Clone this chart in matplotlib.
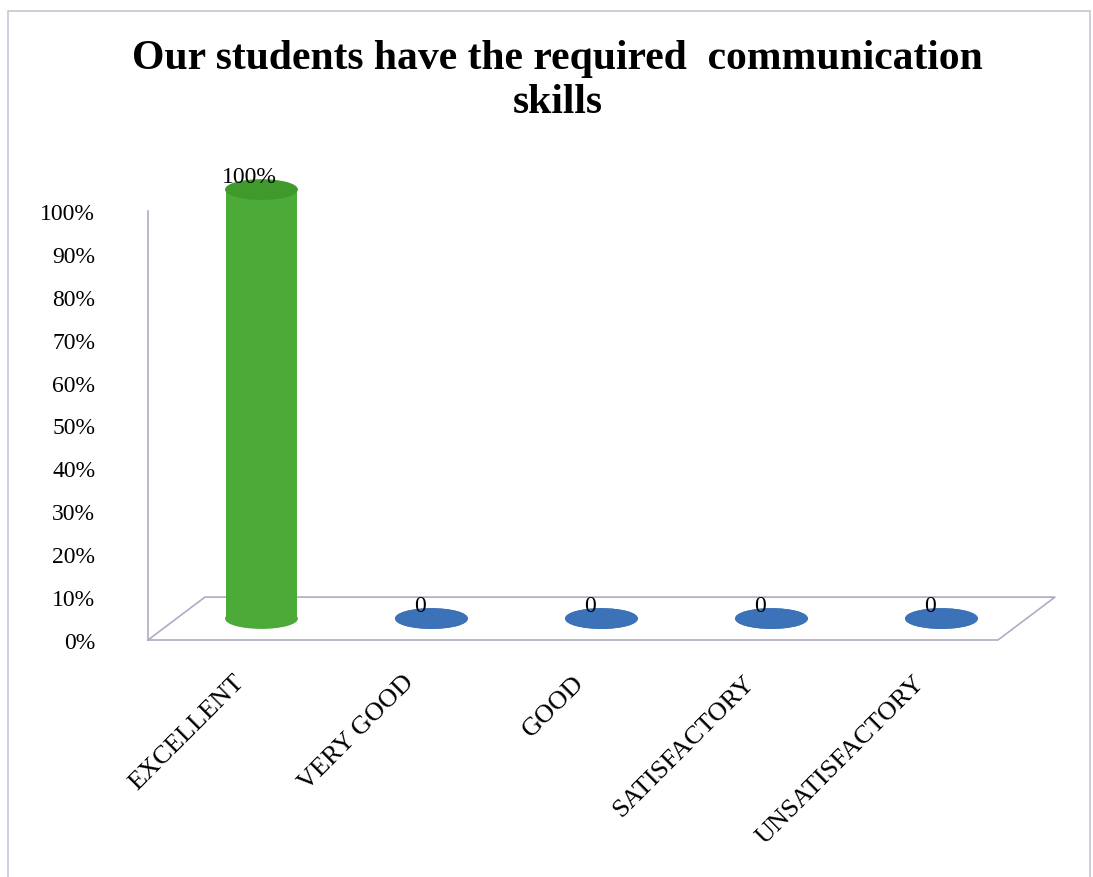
import matplotlib.pyplot as plt
from matplotlib.patches import Ellipse, Rectangle

categories = ["EXCELLENT", "VERY GOOD", "GOOD", "SATISFACTORY", "UNSATISFACTORY"]
values = [100, 0, 0, 0, 0]
value_labels = ["100%", "0", "0", "0", "0"]
yticks = [0, 10, 20, 30, 40, 50, 60, 70, 80, 90, 100]
ytick_labels = [f"{t}%" for t in yticks]
colors = ["#4caa38", "#3c72b8", "#3c72b8", "#3c72b8", "#3c72b8"]
top_colors = ["#3f9a2b", "#3c72b8", "#3c72b8", "#3c72b8", "#3c72b8"]

title = "Our students have the required  communication\nskills"

plt.rcParams['font.family'] = ['Liberation Serif', 'DejaVu Serif']

fig = plt.figure(figsize=(10.93, 8.78), dpi=100)
W, H = 1093, 878

# axes box in pixels: front plane x -0.5 -> 148px, 170 px per category
dx, dy = 0.335, 10.0          # depth offset of the floor (data units)
x_lo, x_hi = -0.5, 4.5 + dx
y_lo, y_hi = 0, 112
left_px, bottom_px = 148, 641
right_px = left_px + (x_hi - x_lo) * 170
top_px = bottom_px - (y_hi - y_lo) * 4.29
ax = fig.add_axes([left_px / W, 1 - bottom_px / H,
                   (right_px - left_px) / W, (bottom_px - top_px) / H])
ax.set_xlim(x_lo, x_hi)
ax.set_ylim(y_lo, y_hi)

line_col = "#b3aac4"
for s in ["top", "right", "bottom"]:
    ax.spines[s].set_visible(False)
ax.spines["left"].set_bounds(0, 100)
ax.spines["left"].set_color(line_col)
ax.spines["left"].set_linewidth(1.2)

# floor
n = len(categories)
fx = [x_lo, n - 0.5, n - 0.5 + dx, x_lo + dx, x_lo]
fy = [0, 0, dy, dy, 0]
ax.plot(fx, fy, color=line_col, lw=1.2, clip_on=False, zorder=1)

ax.set_yticks(yticks)
ax.set_yticklabels(ytick_labels)
ax.tick_params(axis="y", length=0, pad=38, labelsize=17)
ax.set_xticks(range(n))
ax.set_xticklabels(categories, rotation=45, ha="right", va="top",
                   rotation_mode="anchor")
ax.tick_params(axis="x", length=0, pad=22, labelsize=19)

# cylinders
w = 0.42
eh = 4.5
for i, v in enumerate(values):
    cx = i + dx / 2
    base = dy / 2
    if v > 0:
        ax.bar(cx, v, bottom=base, width=w, color=colors[i], zorder=3)
    ax.add_patch(Ellipse((cx, base), w, eh, color=colors[i], zorder=2))
    ax.add_patch(Ellipse((cx, base + v), w, eh, color=top_colors[i], zorder=4))
    ax.text(cx - 0.07, base + v + 1.8, value_labels[i], ha="center",
            va="baseline", fontsize=17, zorder=5)

fig.text(0.51, 1 - 81 / H, title, ha="center", va="center",
         fontsize=30, fontweight="bold", linespacing=1.2)

fig.add_artist(Rectangle((8 / W, -0.01), (1090 - 8) / W, 1 - 12 / H + 0.01,
                         transform=fig.transFigure, fill=False,
                         edgecolor="#c9c3d4", lw=1.2))

fig.savefig("out.png", dpi=100)
